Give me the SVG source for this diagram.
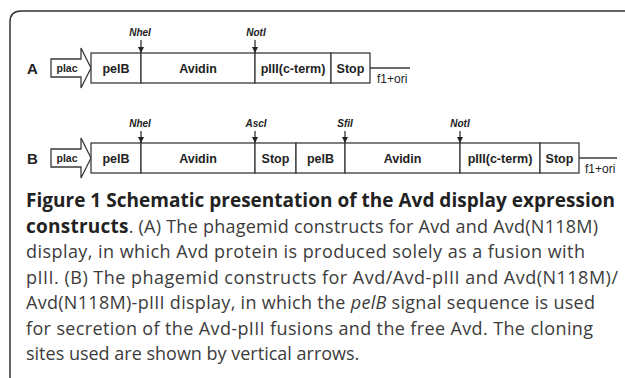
<svg xmlns="http://www.w3.org/2000/svg" width="625" height="378" viewBox="0 0 625 378">
<defs>
<marker id="ah" viewBox="0 0 6 6" refX="6" refY="3" markerWidth="6" markerHeight="6" markerUnits="userSpaceOnUse" orient="auto">
<path d="M0,0 L6,3 L0,6 Z" fill="#222"/>
</marker>
</defs>
<style>
.seg{fill:#fff;stroke:#3a3a3a;stroke-width:1.3}
.lbl{font-family:"Liberation Sans",Arial,sans-serif;font-weight:bold;font-size:12.5px;fill:#222;text-anchor:middle}
.plac{font-family:"Liberation Sans",Arial,sans-serif;font-weight:bold;font-size:10.5px;fill:#222;text-anchor:middle}
.row{font-family:"Liberation Sans",Arial,sans-serif;font-weight:bold;font-size:15px;fill:#222}
.site{font-family:"Liberation Sans",Arial,sans-serif;font-weight:bold;font-style:italic;font-size:10px;fill:#222;text-anchor:middle}
.ori{font-family:"Liberation Sans",Arial,sans-serif;font-size:12px;fill:#222}
.wire{stroke:#3a3a3a;stroke-width:1.3;fill:none}
.cut{stroke:#222;stroke-width:1.2;fill:none}
.cap{font-family:"Open Sans","Noto Sans",sans-serif;font-size:18px;fill:#3c3c3c}
.capb{font-weight:bold;fill:#222}
</style>
<path d="M10,378 V22 Q10,11 21,11 H625" fill="none" stroke="#333" stroke-width="1.5"/>

<!-- Row A -->
<g id="rowA-label"><text class="row" x="27" y="74">A</text></g>
<g id="A-plac">
<path class="seg" d="M51,59 H81 V48 L91,68 L81,88 V77 H51 Z"/>
<text class="plac" x="67" y="72">plac</text>
</g>
<g id="A-pelB"><rect class="seg" x="91" y="53" width="50" height="30"/><text class="lbl" x="116" y="72.5">pelB</text></g>
<g id="A-avidin"><rect class="seg" x="141" y="53" width="114" height="30"/><text class="lbl" x="198" y="72.5">Avidin</text></g>
<g id="A-pIII"><rect class="seg" x="255" y="53" width="76" height="30"/><text class="lbl" x="293" y="72.5">pIII(c-term)</text></g>
<g id="A-stop"><rect class="seg" x="331" y="53" width="39" height="30"/><text class="lbl" x="350.5" y="72.5">Stop</text></g>
<g id="A-ori"><text class="ori" x="377" y="83">f1+ori</text></g>
<g id="A-NheI"><text class="site" x="140" y="36">NheI</text></g>
<g id="A-NotI"><text class="site" x="256" y="36">NotI</text></g>

<!-- Row B -->
<g id="rowB-label"><text class="row" x="27" y="164">B</text></g>
<g id="B-plac">
<path class="seg" d="M51,149 H81 V138 L91,158 L81,178 V167 H51 Z"/>
<text class="plac" x="67" y="162">plac</text>
</g>
<g id="B-pelB1"><rect class="seg" x="91" y="143" width="50" height="30"/><text class="lbl" x="116" y="162.5">pelB</text></g>
<g id="B-avidin1"><rect class="seg" x="141" y="143" width="114" height="30"/><text class="lbl" x="198" y="162.5">Avidin</text></g>
<g id="B-stop1"><rect class="seg" x="255" y="143" width="41" height="30"/><text class="lbl" x="275.5" y="162.5">Stop</text></g>
<g id="B-pelB2"><rect class="seg" x="296" y="143" width="49" height="30"/><text class="lbl" x="320.5" y="162.5">pelB</text></g>
<g id="B-avidin2"><rect class="seg" x="345" y="143" width="115" height="30"/><text class="lbl" x="402.5" y="162.5">Avidin</text></g>
<g id="B-pIII"><rect class="seg" x="460" y="143" width="80" height="30"/><text class="lbl" x="500" y="162.5">pIII(c-term)</text></g>
<g id="B-stop2"><rect class="seg" x="540" y="143" width="39" height="30"/><text class="lbl" x="559.5" y="162.5">Stop</text></g>
<g id="B-ori"><text class="ori" x="585" y="173">f1+ori</text></g>
<g id="B-NheI"><text class="site" x="140" y="127">NheI</text></g>
<g id="B-AscI"><text class="site" x="256" y="127">AscI</text></g>
<g id="B-SfiI"><text class="site" x="345" y="127">SfiI</text></g>
<g id="B-NotI"><text class="site" x="460" y="127">NotI</text></g>

<g id="connectors">
<line class="wire" x1="370" y1="68" x2="410" y2="68"/>
<line class="wire" x1="579" y1="158" x2="617" y2="158"/>
<line class="cut" x1="141" y1="40" x2="141" y2="53" marker-end="url(#ah)"/>
<line class="cut" x1="255" y1="40" x2="255" y2="53" marker-end="url(#ah)"/>
<line class="cut" x1="141" y1="131" x2="141" y2="143" marker-end="url(#ah)"/>
<line class="cut" x1="255" y1="131" x2="255" y2="143" marker-end="url(#ah)"/>
<line class="cut" x1="345" y1="131" x2="345" y2="143" marker-end="url(#ah)"/>
<line class="cut" x1="460" y1="131" x2="460" y2="143" marker-end="url(#ah)"/>
</g>

<g id="caption" class="cap">
<text x="26" y="207" class="capb" font-size="19" textLength="589" lengthAdjust="spacing">Figure 1 Schematic presentation of the Avd display expression</text>
<text x="26" y="232.5" textLength="572" lengthAdjust="spacing"><tspan class="capb" font-size="19">constructs</tspan>. (A) The phagemid constructs for Avd and Avd(N118M)</text>
<text x="26" y="258" textLength="559" lengthAdjust="spacing">display, in which Avd protein is produced solely as a fusion with</text>
<text x="26" y="283.5" textLength="592" lengthAdjust="spacing">pIII. (B) The phagemid constructs for Avd/Avd-pIII and Avd(N118M)/</text>
<text x="26" y="309" textLength="569" lengthAdjust="spacing">Avd(N118M)-pIII display, in which the <tspan font-style="italic">pelB</tspan> signal sequence is used</text>
<text x="26" y="334.5" textLength="567" lengthAdjust="spacing">for secretion of the Avd-pIII fusions and the free Avd. The cloning</text>
<text x="26" y="360">sites used are shown by vertical arrows.</text>
</g>
</svg>
